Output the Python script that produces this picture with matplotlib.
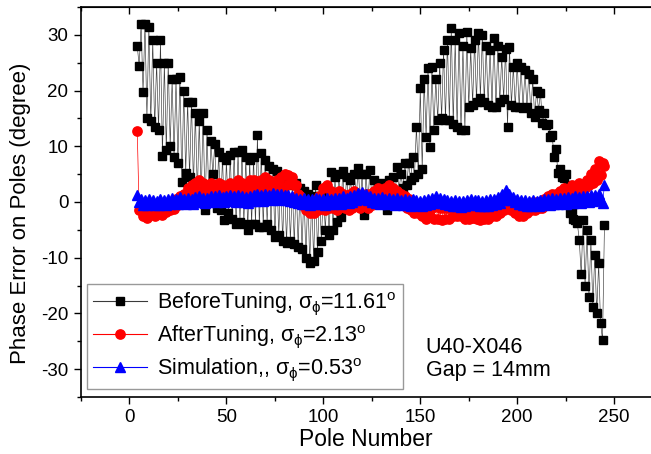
import numpy as np
import matplotlib
matplotlib.use("Agg")
import matplotlib.pyplot as plt
from matplotlib.ticker import MultipleLocator

plt.rcParams['font.family'] = ['Liberation Sans', 'DejaVu Sans']
plt.rcParams['mathtext.fontset'] = 'custom'
plt.rcParams['mathtext.rm'] = 'Liberation Sans'
plt.rcParams['mathtext.it'] = 'Liberation Sans'
plt.rcParams['axes.unicode_minus'] = False

# pole numbers: pairs (even, odd) from 4 to 245
poles_even = list(range(4, 246, 2))
poles_odd = list(range(5, 246, 2))

before_even = [28, 32, 32, 31.5, 29, 25, 29, 25, 25, 22,
               22, 22.5, 20, 18, 18, 16, 14.5, 16, 13, 11,
               10.5, 9, 8, 7.5, 8.5, 9, 9, 9.3, 8, 7.5,
               8, 12, 8.8, 7.5, 6.5, 6, 5.6, 4.5, 4, 3.5,
               3, 3.5, 2.5, 2, 1.5, 1, 3, 1, 2, 1.5,
               5.4, 4.5, 5, 5.5, 4.5, 4, 5, 6.1, 5, 5,
               5.7, 4, 3, 3.5, 2.5, 4, 4.5, 6.3, 5, 7,
               7, 8, 13.5, 20.4, 22, 24, 24.3, 22, 25, 27.3,
               29, 31.2, 29, 30.3, 28, 30.5, 27.6, 29, 30.3, 30,
               28, 27.3, 29.4, 28, 26, 27.5, 27.8, 24.3, 25, 24.3,
               23.7, 23, 22, 20, 19.6, 16, 14, 12, 9.5, 6,
               4.3, 3, -1.4, -3.2, -6.8, -3.2, -5, -6.8, -9.5, -11, -24.8]
before_odd = [24.5, 19.7, 15, 14.5, 13.5, 13, 8.3, 9.3, 10, 8,
              7, 3.6, 5.2, 4.5, 3, 1.6, 1, -1.4, 0, 5,
              -1, -1.4, -3.2, -2, -3, -4, -3.5, -4, -5, -4,
              -4, -4.5, -4.5, -4, -5, -6.3, -6, -7, -7.4, -7,
              -7.5, -8, -8.5, -10, -11, -10.5, -9, -7, -5, -6,
              -5, -3.6, -2.7, -1, 0, 0.5, 1, 0, -2.4, 0,
              1, 1, 0.5, 0, -1.4, 0.5, 1, 2, 2.5, 3,
              4, 4.5, 5, 6, 11.7, 9.9, 13, 14.7, 15, 14.7,
              14.7, 14, 13.5, 13, 12.9, 17, 17.5, 18, 18.7, 18,
              17.5, 17, 17, 18, 18.5, 13.5, 17.4, 17, 17, 16.8,
              17, 16, 15.3, 16.5, 14.2, 13.8, 11.7, 8.1, 5.2, 4.5,
              5, -2, -3, -3.8, -13, -15, -17, -18.8, -20, -21.8, -4.1]

after_even = [12.8, -1.5, -2, -1.5, -2, -1.8, -1.2, -1.5, -1, -0.5,
              0.5, 1, 1.5, 2.5, 3, 3.5, 4, 3.5, 3, 3.5,
              3, 3.5, 3, 2.5, 3.5, 3, 4, 3.5, 3, 4,
              4, 3.5, 4, 4.5, 4, 3.5, 4, 4.5, 5, 4.8,
              4.5, 3, 1, 0, -1, -1, -0.5, 1, 2.5, 3,
              2, 1.5, 2, 1.5, 1, 1.5, 2, 1.5, 1, 1.5,
              1.5, 2, 2.5, 2, 2.5, 3, 2.5, 2, 1.5, 1,
              0.5, 0, -0.5, -1, -1, -0.5, -1, -0.5, -1, -1,
              -1, -0.5, -1, -1, -1.5, -1.5, -1, -1.5, -2, -2,
              -1.5, -1.5, -1, -0.5, 0, 0.5, 0, -0.5, -0.5, -1,
              -0.5, -0.5, 0, 0, 0, 0.5, 1, 1.5, 1.5, 2,
              2.5, 2, 3, 2.5, 3.5, 3, 4, 5, 6, 7.3, 7]
after_odd = [-1.5, -2.5, -2.8, -2.2, -2.5, -2, -2.3, -1.8, -1.5, -1.2,
             -0.5, 0, 0.5, 1, 1.5, 2, 1.5, 2, 2.5, 2,
             2, 1.5, 1, 2, 1.5, 2, 2.5, 1.5, 2, 2.5,
             2.5, 2, 2.5, 3, 2, 2.5, 3, 2.5, 3, 3.5,
             3, 1.5, -0.5, -1.5, -2, -2, -1.5, -1, -1.5, -1,
             -1, -1.5, -0.5, -1, -1.5, -1, -0.5, -1, -0.5, -1,
             -0.5, 0, 0.5, 0, 0.5, 1, 0.5, 0, -0.5, -1,
             -1.5, -2, -2, -2.5, -3, -2.5, -3, -3, -3.2, -3,
             -3, -2.5, -2.5, -2.5, -3, -3, -2.8, -3, -3.2, -3,
             -3, -2.5, -2.5, -2, -1.5, -1, -1.5, -2, -2.5, -2.5,
             -2, -1.5, -1.5, -1, -1, -0.5, 0, 0, 0.5, 1,
             1, 1.5, 1.5, 2, 2, 2.5, 3, 3.5, 4, 4.8, 6.5]

sim_even = [1.2, 0.5, 0.3, 0.5, 0.4, 0.2, 0.6, 0.3, 0.5, 0.8,
            0.6, 0.9, 0.5, 0.8, 0.6, 0.9, 1, 0.7, 0.8, 1,
            1, 1.2, 0.9, 1, 1.3, 1, 1.2, 1, 0.9, 1.1,
            1.2, 1.4, 1.2, 1.5, 1.3, 1.6, 1.4, 1.5, 1.3, 1.2,
            1, 0.8, 0.6, 0.8, 0.5, 0.6, 0.8, 0.6, 0.5, 0.7,
            0.6, 0.8, 0.7, 1, 0.8, 1, 1.3, 1.6, 1.8, 1.4,
            1, 0.8, 0.7, 0.9, 0.6, 0.8, 0.5, 0.7, 0.4, 0.5,
            0.3, 0.5, 0.4, 0.2, 0.4, 0.6, 0.8, 1, 0.8, 0.6,
            0.4, 0.2, 0.3, 0.1, 0.2, 0.4, 0.6, 0.4, 0.3, 0.2,
            0.3, 0.5, 0.6, 0.9, 1.4, 2.2, 1.5, 0.9, 0.6, 0.4,
            0.3, 0.2, 0.4, 0.2, 0.4, 0.6, 0.5, 0.7, 0.6, 0.8,
            0.7, 0.9, 0.8, 1, 0.9, 1.1, 1, 1.2, 1.3, 1.4, -0.2]
sim_odd = [0, -0.5, -0.6, -0.4, -0.6, -0.5, -0.3, -0.5, -0.4, -0.2,
           -0.3, -0.2, -0.4, -0.1, -0.3, 0, 0, -0.2, 0, 0.1,
           0, 0.2, 0, 0.1, 0.3, 0, 0.2, 0, -0.1, 0.1,
           0.2, 0.4, 0.2, 0.5, 0.3, 0.6, 0.4, 0.5, 0.3, 0.2,
           0, -0.2, -0.4, -0.2, -0.5, -0.4, -0.2, -0.4, -0.5, -0.3,
           -0.4, -0.2, -0.3, 0, -0.2, 0, 0.3, 0.5, 0.6, 0.3,
           0, -0.2, -0.3, -0.1, -0.4, -0.2, -0.5, -0.3, -0.6, -0.5,
           -0.7, -0.5, -0.6, -0.8, -0.6, -0.4, -0.2, 0, -0.2, -0.4,
           -0.6, -0.8, -0.7, -0.9, -0.8, -0.6, -0.4, -0.6, -0.7, -0.8,
           -0.7, -0.5, -0.4, -0.1, 0.3, 1, 0.4, 0, -0.4, -0.6,
           -0.7, -0.8, -0.6, -0.8, -0.6, -0.4, -0.5, -0.3, -0.4, -0.2,
           -0.3, -0.1, -0.2, 0, -0.1, 0.1, 0, 0.2, 0.3, 0.4, 3.0]


def interleave(a, b):
    out = []
    for u, v in zip(a, b):
        out.append(u)
        out.append(v)
    return out


poles = interleave(poles_even, poles_odd)
before = interleave(before_even, before_odd)
after = interleave(after_even, after_odd)
sim = interleave(sim_even, sim_odd)

fig = plt.figure(figsize=(6.51, 4.54), dpi=100)
ax = fig.add_axes([81/651, 1-397/454, 570/651, 390/454])

ax.plot(poles, before, color='#3a3a3a', lw=0.45, marker='s', ms=6.3,
        mec='black', mfc='black',
        label=r'BeforeTuning, $\sigma_{\phi}$=11.61$^{\rm o}$')
ax.plot(poles, after, color='red', lw=0.5, marker='o', ms=6.7,
        mec='red', mfc='red',
        label=r'AfterTuning, $\sigma_{\phi}$=2.13$^{\rm o}$')
ax.plot(poles, sim, color='blue', lw=0.5, marker='^', ms=6.7,
        mec='blue', mfc='blue',
        label=r'Simulation,, $\sigma_{\phi}$=0.53$^{\rm o}$')

ax.set_xlim(-25, 269)
ax.set_ylim(-35, 35)
ax.xaxis.set_major_locator(MultipleLocator(50))
ax.xaxis.set_minor_locator(MultipleLocator(25))
ax.yaxis.set_major_locator(MultipleLocator(10))
ax.yaxis.set_minor_locator(MultipleLocator(5))
ax.tick_params(which='major', direction='out', length=5, width=1, labelsize=13.5, pad=4)
ax.tick_params(which='minor', direction='out', length=3, width=1)
ax.spines['right'].set_visible(False)
for s in ['left', 'bottom', 'top']:
    ax.spines[s].set_linewidth(1.2)

top = ax.secondary_xaxis('top')
top.xaxis.set_major_locator(MultipleLocator(50))
top.xaxis.set_minor_locator(MultipleLocator(25))
top.tick_params(which='major', direction='in', length=5, width=1, labeltop=False)
top.tick_params(which='minor', direction='in', length=3, width=1)

ax.set_xlabel('Pole Number', fontsize=16.5, labelpad=1)
ax.set_ylabel('Phase Error on Poles (degree)', fontsize=16)
ax.yaxis.set_label_coords(-0.088, 0.472)

leg = ax.legend(loc='lower left', bbox_to_anchor=(0.01, 0.02), fontsize=15.5,
                frameon=True, fancybox=False, edgecolor='gray',
                handlelength=2.5, borderpad=0.3, labelspacing=0.28,
                handletextpad=0.45, borderaxespad=0)
leg.get_frame().set_linewidth(1.0)
for h in leg.get_lines():
    h.set_linewidth(0.8)

ax.text(0.605, 0.04, 'U40-X046\nGap = 14mm', transform=ax.transAxes,
        fontsize=15.5, ha='left', va='bottom', linespacing=1.12)

fig.savefig('out.png', dpi=100)
